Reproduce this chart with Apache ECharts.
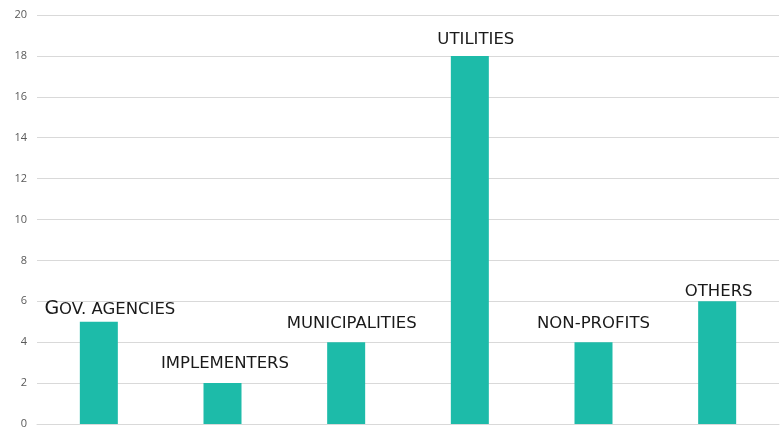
<!DOCTYPE html>
<html>
<head>
<meta charset="utf-8">
<script src="https://cdn.jsdelivr.net/npm/echarts@6/dist/echarts.min.js"></script>
<style>html,body{margin:0;padding:0;background:#fff}#c{width:784px;height:427px}</style>
</head>
<body>
<div id="c"></div>
<script>
const categories = ['Gov. agencies', 'implementers', 'municipalities', 'utilities', 'non-profits', 'others'];
const values = [5, 2, 4, 18, 4, 6];
const yTicks = [0, 2, 4, 6, 8, 10, 12, 14, 16, 18, 20];

const labelOffsets = [[11, 2], [2.5, -6], [5.5, -5], [6, -3], [0, -5], [1.5, 4]];

const chart = echarts.init(document.getElementById('c'));
chart.setOption({
  animation: false,
  grid: { left: 37, right: 5, top: 15, bottom: 3, containLabel: false, outerBoundsMode: 'none' },
  xAxis: {
    type: 'category',
    data: categories,
    axisLine: { show: true, lineStyle: { color: '#d9d9d9' } },
    axisTick: { show: false },
    axisLabel: { show: false }
  },
  yAxis: {
    type: 'value',
    min: yTicks[0], max: yTicks[yTicks.length - 1], interval: 2,
    axisLine: { show: false },
    axisTick: { show: false },
    splitLine: { lineStyle: { color: '#d9d9d9', width: 1 } },
    axisLabel: { color: '#595959', fontSize: 11, fontFamily: 'Open Sans', margin: 10 }
  },
  series: [{
    type: 'bar',
    barWidth: 38,
    itemStyle: { color: '#1dbba9' },
    data: values.map((v, i) => ({
      value: v,
      label: {
        show: true,
        position: 'top',
        offset: labelOffsets[i],
        formatter: i === 0 ? '{big|G}{sm|OV. AGENCIES}' : categories[i].toUpperCase(),
        color: '#1a1a1a',
        fontFamily: 'DejaVu Sans',
        fontSize: 16.5,
        rich: {
          big: { fontSize: 19, fontFamily: 'DejaVu Sans', color: '#1a1a1a' },
          sm: { fontSize: 16.5, fontFamily: 'DejaVu Sans', color: '#1a1a1a' }
        }
      }
    }))
  }]
});
</script>
</body>
</html>
